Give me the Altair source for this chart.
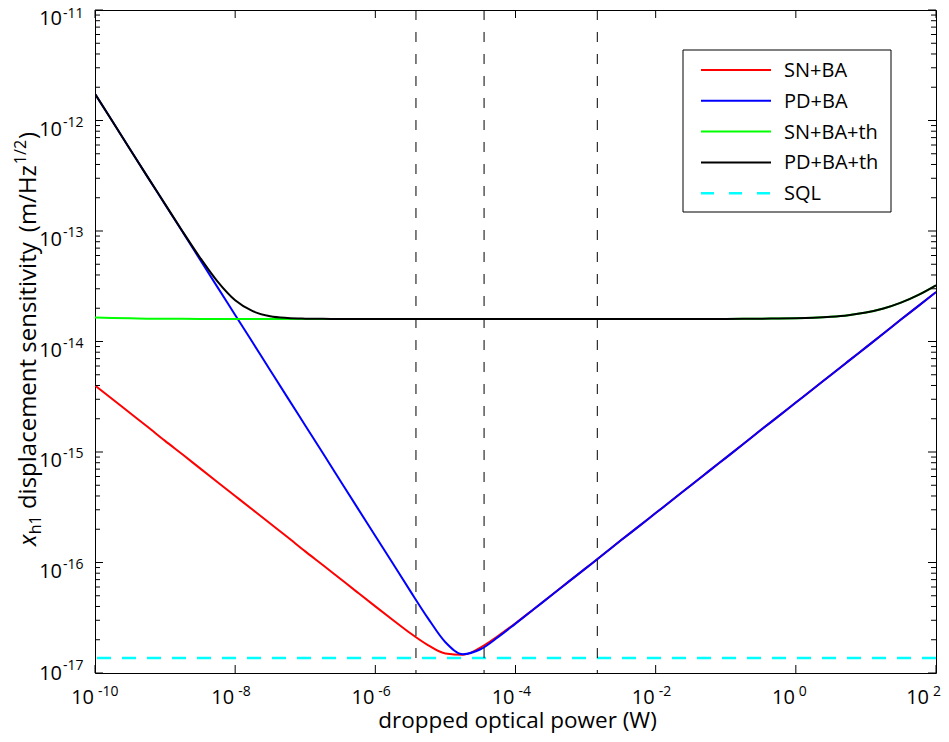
import altair as alt
import pandas as pd

# ---------------- data ----------------
power_W = [1.00e-10, 1.78e-10, 3.16e-10, 5.62e-10,
           1.00e-09, 1.78e-09, 3.16e-09, 5.62e-09,
           1.00e-08, 1.78e-08, 3.16e-08, 5.62e-08,
           1.00e-07, 1.78e-07, 3.16e-07, 5.62e-07,
           1.00e-06, 1.78e-06, 3.16e-06, 5.62e-06,
           1.00e-05, 1.78e-05, 3.16e-05, 5.62e-05,
           1.00e-04, 1.78e-04, 3.16e-04, 5.62e-04,
           1.00e-03, 1.78e-03, 3.16e-03, 5.62e-03,
           1.00e-02, 1.78e-02, 3.16e-02, 5.62e-02,
           1.00e-01, 1.78e-01, 3.16e-01, 5.62e-01,
           1.00e+00, 1.78e+00, 3.16e+00, 5.62e+00,
           1.00e+01, 1.78e+01, 3.16e+01, 5.62e+01,
           1.00e+02]

sn_ba = [4.00e-15, 3.00e-15, 2.25e-15, 1.69e-15,
         1.26e-15, 9.49e-16, 7.11e-16, 5.33e-16,
         4.00e-16, 3.00e-16, 2.25e-16, 1.69e-16,
         1.26e-16, 9.49e-17, 7.12e-17, 5.34e-17,
         4.01e-17, 3.02e-17, 2.29e-17, 1.79e-17,
         1.50e-17, 1.46e-17, 1.70e-17, 2.16e-17,
         2.82e-17, 3.74e-17, 4.98e-17, 6.64e-17,
         8.85e-17, 1.18e-16, 1.58e-16, 2.10e-16,
         2.80e-16, 3.73e-16, 4.98e-16, 6.64e-16,
         8.85e-16, 1.18e-15, 1.58e-15, 2.10e-15,
         2.80e-15, 3.73e-15, 4.98e-15, 6.64e-15,
         8.85e-15, 1.18e-14, 1.58e-14, 2.10e-14,
         2.80e-14]

pd_ba = [1.74e-12, 9.78e-13, 5.50e-13, 3.09e-13,
         1.74e-13, 9.78e-14, 5.50e-14, 3.09e-14,
         1.74e-14, 9.78e-15, 5.50e-15, 3.09e-15,
         1.74e-15, 9.78e-16, 5.50e-16, 3.09e-16,
         1.74e-16, 9.79e-17, 5.51e-17, 3.14e-17,
         1.90e-17, 1.48e-17, 1.64e-17, 2.11e-17,
         2.80e-17, 3.73e-17, 4.98e-17, 6.64e-17,
         8.85e-17, 1.18e-16, 1.58e-16, 2.10e-16,
         2.80e-16, 3.73e-16, 4.98e-16, 6.64e-16,
         8.85e-16, 1.18e-15, 1.58e-15, 2.10e-15,
         2.80e-15, 3.73e-15, 4.98e-15, 6.64e-15,
         8.85e-15, 1.18e-14, 1.58e-14, 2.10e-14,
         2.80e-14]

sn_ba_th = [1.65e-14, 1.63e-14, 1.62e-14, 1.61e-14,
            1.605e-14, 1.603e-14, 1.602e-14, 1.601e-14,
            1.60e-14, 1.60e-14, 1.60e-14, 1.60e-14,
            1.60e-14, 1.60e-14, 1.60e-14, 1.60e-14,
            1.60e-14, 1.60e-14, 1.60e-14, 1.60e-14,
            1.60e-14, 1.60e-14, 1.60e-14, 1.60e-14,
            1.60e-14, 1.60e-14, 1.60e-14, 1.60e-14,
            1.60e-14, 1.60e-14, 1.60e-14, 1.60e-14,
            1.60e-14, 1.60e-14, 1.60e-14, 1.60e-14,
            1.602e-14, 1.604e-14, 1.608e-14, 1.614e-14,
            1.624e-14, 1.643e-14, 1.676e-14, 1.732e-14,
            1.828e-14, 1.988e-14, 2.245e-14, 2.640e-14,
            3.225e-14]

pd_ba_th = [1.74e-12, 9.78e-13, 5.50e-13, 3.09e-13,
            1.75e-13, 9.91e-14, 5.73e-14, 3.48e-14,
            2.36e-14, 1.88e-14, 1.69e-14, 1.63e-14,
            1.61e-14, 1.603e-14, 1.601e-14, 1.60e-14,
            1.60e-14, 1.60e-14, 1.60e-14, 1.60e-14,
            1.60e-14, 1.60e-14, 1.60e-14, 1.60e-14,
            1.60e-14, 1.60e-14, 1.60e-14, 1.60e-14,
            1.60e-14, 1.60e-14, 1.60e-14, 1.60e-14,
            1.60e-14, 1.60e-14, 1.60e-14, 1.60e-14,
            1.602e-14, 1.604e-14, 1.608e-14, 1.614e-14,
            1.624e-14, 1.643e-14, 1.676e-14, 1.732e-14,
            1.828e-14, 1.988e-14, 2.245e-14, 2.640e-14,
            3.225e-14]

series_names = ["SN+BA", "PD+BA", "SN+BA+th", "PD+BA+th"]
series_colors = ["#ff0000", "#0000ff", "#00ff00", "#000000"]
sql_level = [1.37e-17]
marker_powers_W = [3.8e-6, 3.56e-5, 1.47e-3]
x_tick_exponents = [-10, -8, -6, -4, -2, 0, 2]
y_tick_exponents = [-17, -16, -15, -14, -13, -12, -11]
legend_labels = ["SN+BA", "PD+BA", "SN+BA+th", "PD+BA+th", "SQL"]
legend_colors = ["#ff0000", "#0000ff", "#00ff00", "#000000", "#00ffff"]
x_title = "dropped optical power (W)"
y_title_low = ["x", "h1", "displacement sensitivity"]
y_title_high = ["(m/Hz", "1/2", ")"]

# ---------------- layout ----------------
W, H = 841, 663
FONT = "Open Sans"
xs = alt.Scale(type="log", domain=[1e-10, 1e2], nice=False)
ys = alt.Scale(type="log", domain=[1e-17, 1e-11], nice=False)


def X(f):
    return alt.X(f, type="quantitative", scale=xs, axis=None)


def Y(f):
    return alt.Y(f, type="quantitative", scale=ys, axis=None)


dummy = alt.Data(values=[{}])
layers = []

# curves
for name, color, vals in zip(series_names, series_colors,
                             [sn_ba, pd_ba, sn_ba_th, pd_ba_th]):
    d = pd.DataFrame({"P": power_W, "v": vals})
    layers.append(alt.Chart(d).mark_line(color=color, strokeWidth=2,
                                         interpolate="monotone", clip=True)
                  .encode(x=X("P"), y=Y("v")))

# SQL
layers.append(alt.Chart(pd.DataFrame({"v": sql_level}))
              .mark_rule(color="#00ffff", strokeWidth=2.5, strokeDash=[14, 11])
              .encode(y=Y("v")))

# vertical dashed markers
layers.append(alt.Chart(pd.DataFrame({"P": marker_powers_W}))
              .mark_rule(color="black", strokeWidth=1, strokeDash=[10, 12])
              .encode(x=X("P")))

# ticks
y_major = [10.0 ** e for e in y_tick_exponents]
y_minor = [m * 10.0 ** e for e in y_tick_exponents[:-1] for m in range(2, 10)]
x_major = [10.0 ** e for e in x_tick_exponents]
for vals, ln in [(y_major, 8), (y_minor, 5)]:
    dft = pd.DataFrame({"v": vals})
    layers.append(alt.Chart(dft).mark_rule(color="black", strokeWidth=1)
                  .encode(y=Y("v"), x=alt.value(0), x2=alt.value(ln)))
    layers.append(alt.Chart(dft).mark_rule(color="black", strokeWidth=1)
                  .encode(y=Y("v"), x=alt.value(W - ln), x2=alt.value(W)))
dfx = pd.DataFrame({"P": x_major})
layers.append(alt.Chart(dfx).mark_rule(color="black", strokeWidth=1)
              .encode(x=X("P"), y=alt.value(H - 8), y2=alt.value(H)))
layers.append(alt.Chart(dfx).mark_rule(color="black", strokeWidth=1)
              .encode(x=X("P"), y=alt.value(0), y2=alt.value(8)))

# x tick labels (last one nudged left so it stays on the page)
dxl = pd.DataFrame({"P": x_major, "e": [str(e) for e in x_tick_exponents]})
for sel, shift in [(dxl.iloc[:-1], 0), (dxl.iloc[-1:], -6)]:
    layers.append(alt.Chart(sel).mark_text(align="right", baseline="alphabetic",
                                           font=FONT, fontSize=20, dx=-1 + shift,
                                           text="10")
                  .encode(x=X("P"), y=alt.value(694)))
    layers.append(alt.Chart(sel).mark_text(align="left", baseline="alphabetic",
                                           font=FONT, fontSize=14, dx=3 + shift)
                  .encode(x=X("P"), y=alt.value(686), text="e:N"))

# y tick labels (top exponent nudged down to stay on the page)
dyl = pd.DataFrame({"v": y_major, "e": [str(e) for e in y_tick_exponents]})
for sel, d10, de in [(dyl.iloc[1:-1], 15, 6), (dyl.iloc[-1:], 15, 8),
                     (dyl.iloc[:1], 7, -3)]:
    layers.append(alt.Chart(sel).mark_text(align="right", baseline="alphabetic",
                                           font=FONT, fontSize=20, dy=d10, text="10")
                  .encode(y=Y("v"), x=alt.value(-33)))
    layers.append(alt.Chart(sel).mark_text(align="left", baseline="alphabetic",
                                           font=FONT, fontSize=14, dy=de)
                  .encode(y=Y("v"), x=alt.value(-32), text="e:N"))

# x title
layers.append(alt.Chart(dummy).mark_text(align="center", baseline="alphabetic",
                                         font=FONT, fontSize=22.5, text=x_title)
              .encode(x=alt.value(W / 2 + 2), y=alt.value(718)))

# y title (rotated, assembled from pieces)
cw = {" ": 532, "d": 1255, "i": 518, "s": 977, "p": 1255, "l": 518, "a": 1139,
      "c": 975, "e": 1149, "m": 1905, "n": 1257, "t": 705, "v": 1012, "y": 1014,
      "(": 604, ")": 604, "/": 752, "H": 1511, "z": 936, "x": 1000, "h": 1257,
      "1": 1171, "2": 1171}


def tw(s, size):
    return sum(cw.get(ch, 1100) for ch in s) / 2048.0 * size


F, FS = 24, 16
base_x = -59
low = [(y_title_low[0], F, "italic", 0, 0),
       (y_title_low[1], FS, "normal", 5, 0),
       (y_title_low[2], F, "normal", 0, tw(" ", F))]
pos = 536.0
for txt, size, style, off, gap in low:
    pos -= gap
    layers.append(alt.Chart(dummy).mark_text(align="left", baseline="alphabetic",
                                             angle=270, font=FONT, fontSize=size,
                                             fontStyle=style, text=txt)
                  .encode(x=alt.value(base_x + off), y=alt.value(pos)))
    pos -= tw(txt, size)
pos -= tw(" ", F) + 5
anchor = pos - tw(y_title_high[0], F)
# "(m/Hz" ends at the anchor, the exponent and ")" follow it
layers.append(alt.Chart(dummy).mark_text(align="right", baseline="alphabetic",
                                         angle=270, font=FONT, fontSize=F,
                                         text=y_title_high[0])
              .encode(x=alt.value(base_x), y=alt.value(anchor)))
layers.append(alt.Chart(dummy).mark_text(align="left", baseline="alphabetic",
                                         angle=270, font=FONT, fontSize=FS,
                                         text=y_title_high[1])
              .encode(x=alt.value(base_x - 10), y=alt.value(anchor - 1)))
layers.append(alt.Chart(dummy).mark_text(align="left", baseline="alphabetic",
                                         angle=270, font=FONT, fontSize=F,
                                         text=y_title_high[2])
              .encode(x=alt.value(base_x),
                      y=alt.value(anchor - 2 - tw(y_title_high[1], FS))))

# legend
layers.append(alt.Chart(dummy).mark_rect(fill="white", stroke="black", strokeWidth=1)
              .encode(x=alt.value(588), x2=alt.value(796),
                      y=alt.value(40), y2=alt.value(202)))
for i, (lab, col) in enumerate(zip(legend_labels, legend_colors)):
    yy = 60 + i * 30.8
    if lab == "SQL":
        rm = alt.Chart(dummy).mark_rule(color=col, strokeWidth=2.5, strokeDash=[13, 15])
    else:
        rm = alt.Chart(dummy).mark_rule(color=col, strokeWidth=2)
    layers.append(rm.encode(x=alt.value(606), x2=alt.value(676), y=alt.value(yy)))
    layers.append(alt.Chart(dummy).mark_text(align="left", baseline="middle",
                                             font=FONT, fontSize=20, text=lab)
                  .encode(x=alt.value(689), y=alt.value(yy + 1)))

chart = alt.layer(*layers).properties(
    width=W, height=H,
    autosize=alt.AutoSizeParams(type="none"),
    padding={"left": 87, "top": 2, "right": 5, "bottom": 61},
    background="white",
).configure_view(stroke="black", strokeWidth=1)

chart.save("out.html", embed_options={"renderer": "svg", "actions": False})
